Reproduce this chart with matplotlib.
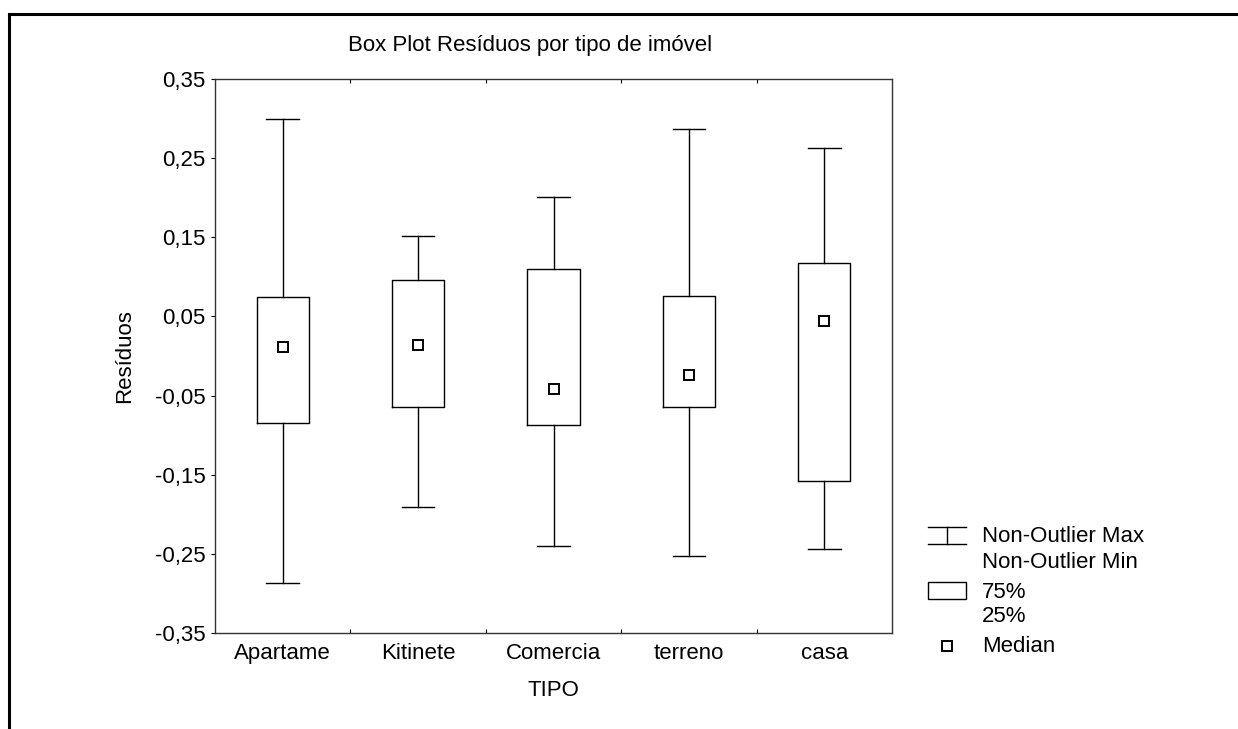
import matplotlib
matplotlib.use("Agg")
import matplotlib.pyplot as plt
from matplotlib.lines import Line2D
from matplotlib.patches import Rectangle
import numpy as np

plt.rcParams["font.family"] = ["Liberation Sans", "DejaVu Sans"]

# ── Data ────────────────────────────────────────────────────────────────────
tipos    = ["Apartame", "Kitinete", "Comercia", "terreno", "casa"]
whis_max = [0.300, 0.152, 0.201, 0.287, 0.263]
q75      = [0.075, 0.096, 0.110, 0.076, 0.117]
medians  = [0.012, 0.014, -0.042, -0.024, 0.044]
q25      = [-0.085, -0.064, -0.087, -0.064, -0.158]
whis_min = [-0.287, -0.191, -0.240, -0.253, -0.244]
yticks   = [0.35, 0.25, 0.15, 0.05, -0.05, -0.15, -0.25, -0.35]

FS = 16
W, H = 1238, 729
fig = plt.figure(figsize=(W / 100, H / 100), dpi=100)
ax = fig.add_axes([215 / W, 1 - 633 / H, (892 - 215) / W, (633 - 79) / H])

stats = []
for lbl, lo, a, m, b, hi in zip(tipos, whis_min, q25, medians, q75, whis_max):
    stats.append(dict(label=lbl, whislo=lo, q1=a, med=m, q3=b, whishi=hi, fliers=[]))

pos = np.arange(len(tipos))
ax.bxp(stats, positions=pos, widths=0.385, capwidths=0.24, showfliers=False,
       boxprops=dict(color="black", lw=1.0),
       whiskerprops=dict(color="black", lw=1.0),
       capprops=dict(color="black", lw=1.0),
       medianprops=dict(lw=0))
ax.plot(pos, medians, ls="none", marker="s", ms=7.5, mfc="white",
        mec="black", mew=1.4, zorder=5)

ax.set_xlim(-0.5, len(tipos) - 0.5)
ax.set_ylim(-0.35, 0.35)
ax.set_yticks(yticks)
ax.set_yticklabels([f"{v:.2f}".replace(".", ",") for v in yticks], fontsize=FS)
ax.set_xticks(pos)
ax.set_xticklabels(tipos, fontsize=FS)
ax.tick_params(axis="x", length=0, pad=7)
ax.set_xticks(pos[:-1] + 0.5, minor=True)
ax.tick_params(axis="x", which="minor", direction="in", length=3,
               top=True, bottom=True, width=0.8)
ax.tick_params(axis="y", direction="out", length=3, width=0.8, pad=4)
for s in ax.spines.values():
    s.set_linewidth(1.0)
    s.set_color("#333333")

ax.set_xlabel("TIPO", fontsize=FS, va="center")
ax.xaxis.set_label_coords(0.5, (633 - 690) / (633 - 79))
ax.set_ylabel("Resíduos", fontsize=FS, va="center")
ax.yaxis.set_label_coords((125 - 215) / (892 - 215), 0.5)

fig.text(530 / W, 1 - 45 / H, "Box Plot Resíduos por tipo de imóvel",
         ha="center", va="center", fontsize=FS)

# ── Legend (drawn in figure pixel coords) ───────────────────────────────────
def fx(x):
    return x / W

def fy(y):
    return 1 - y / H

lw = 1.0
fig.add_artist(Line2D([fx(928), fx(966)], [fy(527), fy(527)], color="black", lw=lw))
fig.add_artist(Line2D([fx(928), fx(966)], [fy(544), fy(544)], color="black", lw=lw))
fig.add_artist(Line2D([fx(947), fx(947)], [fy(527), fy(544)], color="black", lw=lw))
fig.add_artist(Rectangle((fx(928), fy(599)), fx(38), (599 - 582) / H,
                         fill=False, ec="black", lw=lw))
fig.add_artist(Line2D([fx(947)], [fy(646)], ls="none", marker="s", ms=7.5,
                      mfc="white", mec="black", mew=1.4))
for y, t in [(537, "Non-Outlier Max"), (562, "Non-Outlier Min"),
             (592, "75%"), (617, "25%"), (647, "Median")]:
    fig.text(fx(982), fy(y), t, ha="left", va="center", fontsize=FS)

# outer frame (top and left edges)
fig.add_artist(Line2D([fx(9), fx(1238)], [fy(13.5), fy(13.5)], color="black", lw=2.2))
fig.add_artist(Line2D([fx(9), fx(9)], [fy(13.5), fy(729)], color="black", lw=2.2))

fig.savefig("out.png", dpi=100)
